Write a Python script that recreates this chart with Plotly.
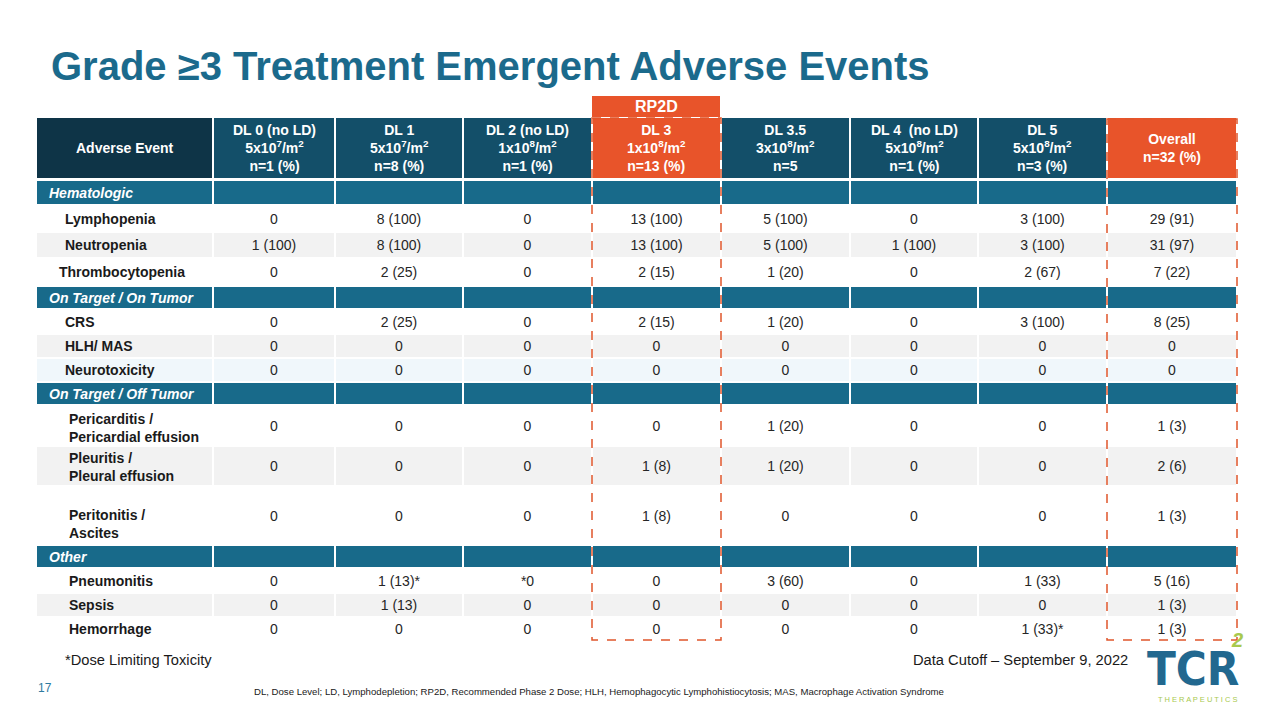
import plotly.graph_objects as go

# ---------------- data ----------------
title_text = "Grade ≥3 Treatment Emergent Adverse Events"
header_labels = [
    "Adverse Event",
    "DL 0 (no LD)<br>5x10<sup>7</sup>/m<sup>2</sup><br>n=1 (%)",
    "DL 1<br>5x10<sup>7</sup>/m<sup>2</sup><br>n=8 (%)",
    "DL 2 (no LD)<br>1x10<sup>8</sup>/m<sup>2</sup><br>n=1 (%)",
    "DL 3<br>1x10<sup>8</sup>/m<sup>2</sup><br>n=13 (%)",
    "DL 3.5<br>3x10<sup>8</sup>/m<sup>2</sup><br>n=5",
    "DL 4  (no LD)<br>5x10<sup>8</sup>/m<sup>2</sup><br>n=1 (%)",
    "DL 5<br>5x10<sup>8</sup>/m<sup>2</sup><br>n=3 (%)",
    "Overall<br>n=32 (%)",
]
row_labels = [
    "Hematologic", "Lymphopenia", "Neutropenia", "Thrombocytopenia",
    "On Target / On Tumor", "CRS", "HLH/ MAS", "Neurotoxicity",
    "On Target / Off Tumor", "Pericarditis /<br>Pericardial effusion",
    "Pleuritis /<br>Pleural effusion", "Peritonitis /<br>Ascites",
    "Other", "Pneumonitis", "Sepsis", "Hemorrhage",
]
row_kinds = ["cat", "white", "gray", "white", "cat", "white", "gray", "blue",
             "cat", "white", "gray", "white", "cat", "white", "gray", "white"]

dl0 = ["", "0", "1 (100)", "0", "", "0", "0", "0", "", "0", "0", "0", "", "0", "0", "0"]
dl1 = ["", "8 (100)", "8 (100)", "2 (25)", "", "2 (25)", "0", "0", "", "0", "0", "0", "", "1 (13)*", "1 (13)", "0"]
dl2 = ["", "0", "0", "0", "", "0", "0", "0", "", "0", "0", "0", "", "*0", "0", "0"]
dl3 = ["", "13 (100)", "13 (100)", "2 (15)", "", "2 (15)", "0", "0", "", "0", "1 (8)", "1 (8)", "", "0", "0", "0"]
dl35 = ["", "5 (100)", "5 (100)", "1 (20)", "", "1 (20)", "0", "0", "", "1 (20)", "1 (20)", "0", "", "3 (60)", "0", "0"]
dl4 = ["", "0", "1 (100)", "0", "", "0", "0", "0", "", "0", "0", "0", "", "0", "0", "0"]
dl5 = ["", "3 (100)", "3 (100)", "2 (67)", "", "3 (100)", "0", "0", "", "0", "0", "0", "", "1 (33)", "0", "1 (33)*"]
overall = ["", "29 (91)", "31 (97)", "7 (22)", "", "8 (25)", "0", "0", "", "1 (3)", "2 (6)", "1 (3)", "", "5 (16)", "1 (3)", "1 (3)"]
value_columns = [dl0, dl1, dl2, dl3, dl35, dl4, dl5, overall]

footnote_dlt = "*Dose Limiting Toxicity"
cutoff_text = "Data Cutoff – September 9, 2022"
abbrev_text = ("DL, Dose Level; LD, Lymphodepletion; RP2D, Recommended Phase 2 Dose; "
               "HLH, Hemophagocytic Lymphohistiocytosis; MAS, Macrophage Activation Syndrome")
page_number = "17"

# ---------------- layout / style ----------------
PAGE_OFFSET = 8  # default body margin of the html page
col_edges = [36, 213, 335, 463, 592, 721, 850, 978, 1107, 1237]
header_top, header_bottom = 118, 178
body_top = 180
row_heights = [25, 27, 26, 28, 23, 25, 24, 24, 23, 41, 40, 59, 23, 25, 24, 23]
label_indent = [47, 63, 63, 57, 47, 63, 63, 63, 47, 67, 67, 67, 47, 67, 67, 67]
label_dy = [0, 0, 0, 0, 0, 0, 0, 0, 0, 2, 1, 8, 0, 0, 0, 0]
VALUE_DY = 1.5

C_HEAD0 = "#0E3447"
C_HEAD = "#134F69"
C_CAT = "#186A8A"
C_ORANGE = "#E8542A"
C_TITLE = "#1B6A8C"
FILL = {"white": "#FFFFFF", "gray": "#F2F2F2", "blue": "#F0F7FB", "cat": C_CAT}
FONT = "Arial, 'Liberation Sans', sans-serif"
LOGO_FONT = "'Liberation Sans Narrow', 'DejaVu Sans Condensed', Arial, sans-serif"
highlight_cols = [4, 8]

fig = go.Figure()
shapes = []
annotations = []

row_tops = []
y = body_top
for h in row_heights:
    row_tops.append(y)
    y += h
body_bottom = y
row_centers = [t + h / 2 for t, h in zip(row_tops, row_heights)]
col_centers = [(col_edges[i] + col_edges[i + 1]) / 2 for i in range(len(col_edges) - 1)]

# header cells
for i in range(len(col_edges) - 1):
    if i == 0:
        color = C_HEAD0
    elif i in highlight_cols:
        color = C_ORANGE
    else:
        color = C_HEAD
    shapes.append(dict(type="rect", xref="x", yref="y", layer="below",
                       x0=col_edges[i] + 1, x1=col_edges[i + 1] - 1,
                       y0=header_top, y1=header_bottom,
                       fillcolor=color, line=dict(width=0)))
    annotations.append(dict(x=col_centers[i], y=(header_top + header_bottom) / 2,
                            xref="x", yref="y", text="<b>" + header_labels[i] + "</b>",
                            showarrow=False, align="center",
                            font=dict(family=FONT, size=14, color="white")))

# body cells
for r, kind in enumerate(row_kinds):
    for i in range(len(col_edges) - 1):
        shapes.append(dict(type="rect", xref="x", yref="y", layer="below",
                           x0=col_edges[i] + 1, x1=col_edges[i + 1] - 1,
                           y0=row_tops[r] + 1, y1=row_tops[r] + row_heights[r] - 1,
                           fillcolor=FILL[kind], line=dict(width=0)))

# row labels
for r, kind in enumerate(row_kinds):
    if kind == "cat":
        txt = "<b><i>" + row_labels[r] + "</i></b>"
        color = "white"
    else:
        txt = "<b>" + row_labels[r] + "</b>"
        color = "#1A1A1A"
    annotations.append(dict(x=label_indent[r], y=row_centers[r] + label_dy[r], xref="x", yref="y",
                            xanchor="left", yanchor="middle", text=txt, align="left",
                            showarrow=False,
                            font=dict(family=FONT, size=14, color=color)))

# values
for ci, vals in enumerate(value_columns):
    fig.add_trace(go.Scatter(
        x=[col_centers[ci + 1]] * len(vals), y=[c + VALUE_DY for c in row_centers],
        mode="text", text=vals, textposition="middle center",
        textfont=dict(family=FONT, size=14, color="#262626"),
        hoverinfo="skip", showlegend=False))

# dashed highlight boxes
shapes.append(dict(type="rect", xref="x", yref="y", layer="above",
                   x0=col_edges[4], x1=col_edges[5], y0=header_top, y1=body_bottom,
                   line=dict(color="#E0552B", width=1.5, dash="dash"), fillcolor="rgba(0,0,0,0)"))
shapes.append(dict(type="rect", xref="x", yref="y", layer="above",
                   x0=col_edges[8], x1=col_edges[9], y0=header_top + 1, y1=body_bottom,
                   line=dict(color="#E0552B", width=1.5, dash="dash"), fillcolor="rgba(0,0,0,0)"))

# RP2D tag
shapes.append(dict(type="rect", xref="x", yref="y", layer="below",
                   x0=col_edges[4], x1=col_edges[5] - 1, y0=96, y1=117,
                   fillcolor=C_ORANGE, line=dict(width=0)))
annotations.append(dict(x=col_centers[4], y=106.5, xref="x", yref="y", text="<b>RP2D</b>",
                        showarrow=False, font=dict(family=FONT, size=16, color="white")))

# title
annotations.append(dict(x=49, y=66, xref="x", yref="y", xanchor="left", yanchor="middle",
                        text="<b>" + title_text + "</b>", showarrow=False,
                        font=dict(family=FONT, size=40, color=C_TITLE)))

# footers
annotations.append(dict(x=63, y=660, xref="x", yref="y", xanchor="left", yanchor="middle",
                        text=footnote_dlt, showarrow=False,
                        font=dict(family=FONT, size=14.7, color="#1A1A1A")))
annotations.append(dict(x=911, y=660, xref="x", yref="y", xanchor="left", yanchor="middle",
                        text=cutoff_text, showarrow=False,
                        font=dict(family=FONT, size=14.7, color="#1A1A1A")))
annotations.append(dict(x=599, y=691, xref="x", yref="y", xanchor="center", yanchor="middle",
                        text=abbrev_text, showarrow=False,
                        font=dict(family=FONT, size=9.6, color="#1A1A1A")))
annotations.append(dict(x=36, y=688, xref="x", yref="y", xanchor="left", yanchor="middle",
                        text=page_number, showarrow=False,
                        font=dict(family=FONT, size=12, color="#2E7BA0")))

# logo
annotations.append(dict(x=1193, y=668, xref="x", yref="y", xanchor="center", yanchor="middle",
                        text="<b>TCR</b>", showarrow=False,
                        font=dict(family=LOGO_FONT, size=47, color="#22688F")))
annotations.append(dict(x=1237, y=640, xref="x", yref="y", xanchor="center", yanchor="middle",
                        text="<b><i>2</i></b>", showarrow=False,
                        font=dict(family=FONT, size=20, color="#A8C94E")))
annotations.append(dict(x=1197, y=699, xref="x", yref="y", xanchor="center", yanchor="middle",
                        text="T H E R A P E U T I C S", showarrow=False,
                        font=dict(family=FONT, size=7.5, color="#A8C94E")))

fig.update_layout(
    width=1280 - PAGE_OFFSET, height=720 - PAGE_OFFSET,
    margin=dict(l=0, r=0, t=0, b=0),
    paper_bgcolor="white", plot_bgcolor="white",
    xaxis=dict(range=[PAGE_OFFSET, 1280], visible=False, fixedrange=True),
    yaxis=dict(range=[720, PAGE_OFFSET], visible=False, fixedrange=True),
    shapes=shapes, annotations=annotations, showlegend=False,
)

fig.write_html("out.html")
